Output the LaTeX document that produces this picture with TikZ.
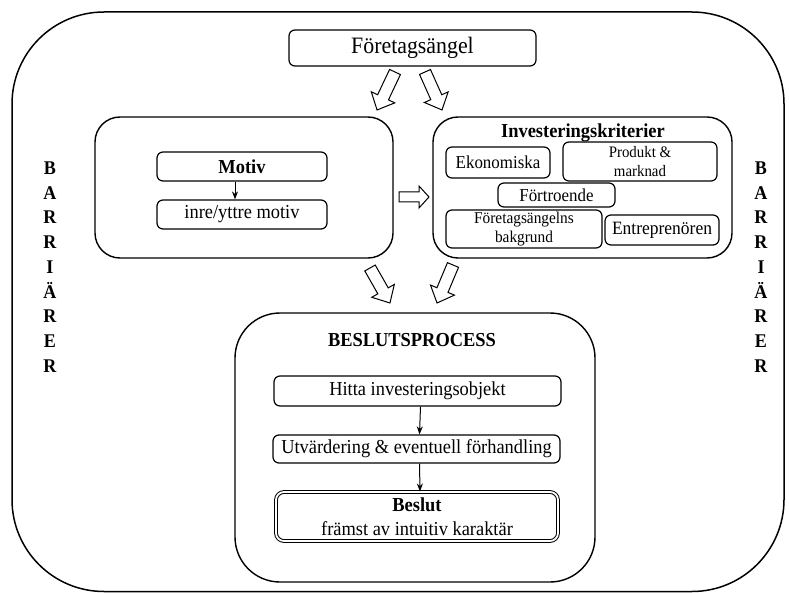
\documentclass[tikz,border=0pt]{standalone}
\usepackage{fontspec}
\setmainfont[FakeStretch=0.93]{Liberation Serif}
\usetikzlibrary{calc,arrows.meta}
\newcommand\hollowarrow[6]{% tail, angle, length, half shaft, half head, head length
  \draw[blk, shift={(#1)}, rotate=#2] (0,#4) -- ({#3-#6},#4) -- ({#3-#6},#5) -- (#3,0) -- ({#3-#6},-#5) -- ({#3-#6},-#4) -- (0,-#4) -- cycle;}
\begin{document}
\begin{tikzpicture}[x=1pt,y=-1pt,
  font=\fontsize{19.8}{23}\selectfont,
  box/.style={draw, line width=1.2pt, rounded corners=6pt, inner sep=0pt, align=center},
  group/.style={draw, line width=1.4pt, inner sep=0pt},
  thinarrow/.style={-{Stealth[length=8pt,width=6pt]}, line width=1pt},
  blk/.style={draw, line width=1pt, fill=white, line join=miter},
  barr/.style={font=\bfseries\fontsize{19.4}{24.75}\selectfont, align=center, inner sep=0pt}]
\useasboundingbox (0,0) rectangle (789,593);
% outer frame
\draw[line width=1.5pt, rounded corners=92pt] (12,12) rectangle (784,591.5);
% top
\node[box, minimum width=247pt, minimum height=36pt, font=\fontsize{23.5}{25}\selectfont] (fa) at (412.5,48) {Företagsängel};
% left group
\node[group, rounded corners=25pt, minimum width=298pt, minimum height=141pt] (mg) at (244,187.5) {};
\node[box, minimum width=170pt, minimum height=29pt, font=\bfseries\fontsize{19.8}{23}\selectfont] (motiv) at (242,166.5) {Motiv};
\node[box, minimum width=170pt, minimum height=29pt] (inre) at (242,214.5) {inre/yttre motiv};
\draw[thinarrow] ([xshift=-7pt]motiv.south) -- ([xshift=-7pt]inre.north);
% right group
\node[group, rounded corners=25pt, minimum width=299pt, minimum height=141pt] (kg) at (582.5,187.5) {};
\node[font=\bfseries\fontsize{19.8}{23}\selectfont, inner sep=0pt] (kt) at (583,133) {Investeringskriterier};
\node[box, minimum width=104pt, minimum height=31pt, font=\fontsize{18.2}{20}\selectfont] (ekon) at (498,162.5) {Ekonomiska};
\node[box, minimum width=154pt, minimum height=39pt, font=\fontsize{16}{19}\selectfont] (prod) at (640,161.5) {Produkt \&\\marknad};
\node[box, minimum width=117pt, minimum height=24pt, font=\fontsize{18.2}{20}\selectfont] (fort) at (556.5,195) {Förtroende};
\node[box, minimum width=156pt, minimum height=38pt, font=\fontsize{16.5}{18.5}\selectfont] (fab) at (524,229) {Företagsängelns\\bakgrund};
\node[box, minimum width=114pt, minimum height=30pt, font=\fontsize{18.8}{20}\selectfont] (entr) at (662,230) {Entreprenören};
% bottom group
\node[group, rounded corners=45pt, minimum width=360pt, minimum height=269pt] (bg) at (415,447.5) {};
\node[font=\bfseries\fontsize{19.8}{23}\selectfont, inner sep=0pt] (bt) at (412,340) {BESLUTSPROCESS};
\node[box, minimum width=287pt, minimum height=30pt] (hitta) at (417.5,391) {Hitta investeringsobjekt};
\node[box, minimum width=287pt, minimum height=28pt] (utv) at (416.5,449) {Utvärdering \& eventuell förhandling};
\node[box, minimum width=282pt, minimum height=49pt, line width=1pt, double, double distance=1.8pt, rounded corners=8pt, font=\fontsize{19.8}{24}\selectfont] (besl) at (417,516.5) {\textbf{Beslut}\\främst av intuitiv karaktär};
\draw[thinarrow] ([xshift=3pt]hitta.south) -- ([xshift=3pt]utv.north);
\draw[thinarrow] ([xshift=3pt]utv.south) -- ([xshift=3pt]besl.north);
% barriers
\node[barr] (barl) at (50,267) {B\\A\\R\\R\\I\\Ä\\R\\E\\R};
\node[barr] (barr) at (761,267) {B\\A\\R\\R\\I\\Ä\\R\\E\\R};
% block arrows
\coordinate (a1) at (395,72);
\coordinate (a2) at (425,72);
\coordinate (a3) at (370,268);
\coordinate (a4) at (453,265);
\coordinate (a5) at (399,197);
\hollowarrow{a1}{-115.3}{42}{6}{13}{14}
\hollowarrow{a2}{-65.9}{41.6}{6}{13}{14}
\hollowarrow{a3}{-60.3}{40.3}{6}{13}{14}
\hollowarrow{a4}{-112.8}{41.2}{6}{13}{14}
\hollowarrow{a5}{0}{30}{5}{11}{10}
\end{tikzpicture}
\end{document}
